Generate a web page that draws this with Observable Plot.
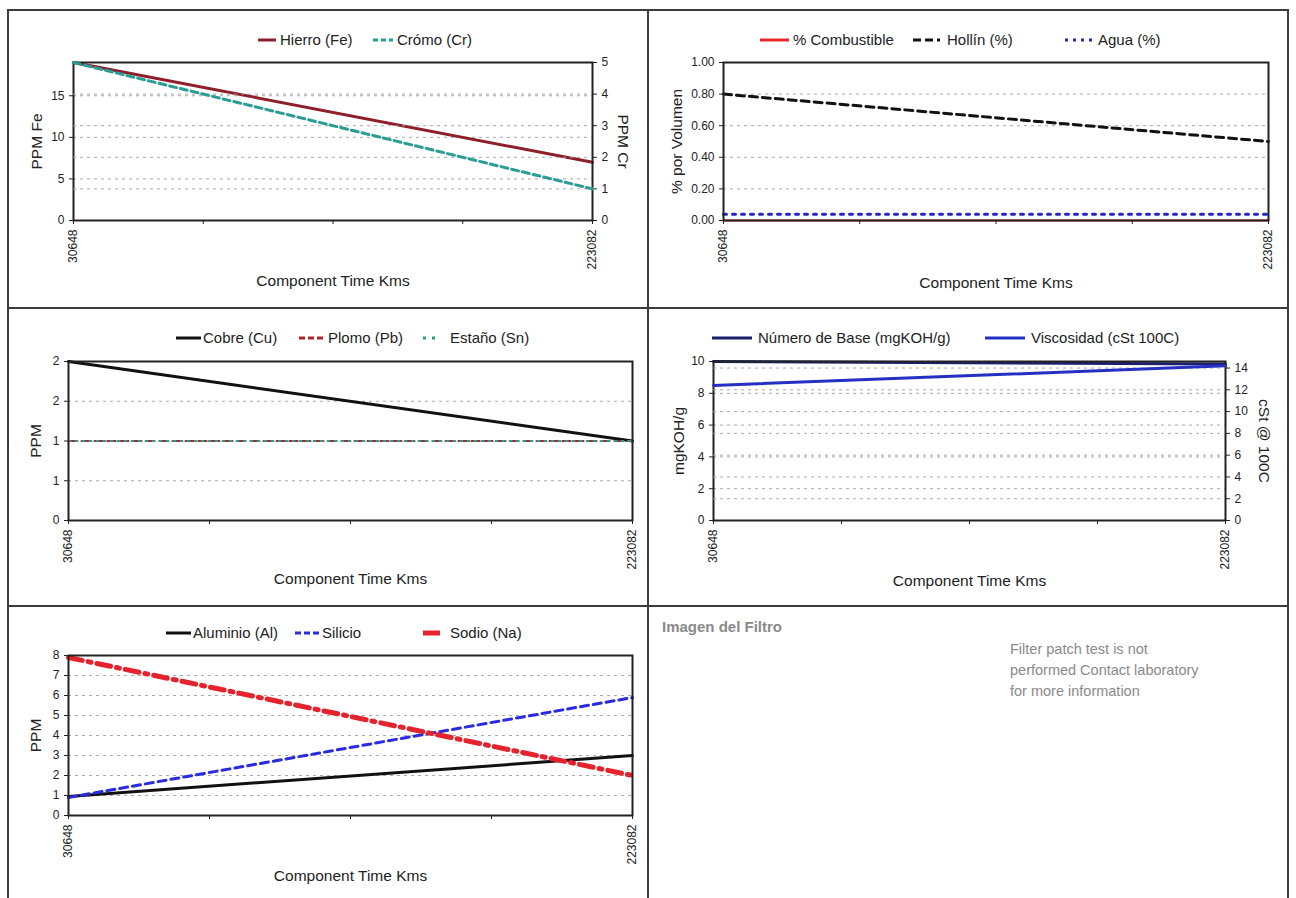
<!DOCTYPE html>
<html><head><meta charset="utf-8">
<script src="https://cdn.jsdelivr.net/npm/d3@7"></script>
<script src="https://cdn.jsdelivr.net/npm/@observablehq/plot@0.6"></script>
<style>
html,body{margin:0;padding:0;background:#fff;width:1296px;height:898px;overflow:hidden;font-family:'Liberation Sans',Arial,sans-serif;}
.panel{position:absolute;}
.panel svg{position:absolute;left:0;top:0;}
.rule{position:absolute;background:#3c3c3c;}
.leg{position:absolute;font-size:15px;color:#222;white-space:nowrap;line-height:16px;}
.legsw{position:absolute;}
</style></head><body>
<div id="root"></div>
<script>
// ---------- data ----------
const xKms = [30648, 223082];
const xMinor = [78757, 126865, 174974];

const fe = [19, 7.0];
const cr = [5, 1.0];

const combustible = [0, 0];
const hollin = [0.80, 0.50];
const agua = [0.04, 0.04];

const cu = [2, 1];
const pb = [1, 1];
const sn = [1, 1];

const tbn = [10, 9.85];
const visc = [12.4, 14.2];

const al = [0.95, 3.0];
const si = [0.9, 5.9];
const na = [7.9, 2.0];

const feTicks = [0, 5, 10, 15];
const crTicks = [0, 1, 2, 3, 4, 5];
const volTicks = [0, 0.2, 0.4, 0.6, 0.8, 1.0];
const cuTicks = [0, 0.5, 1, 1.5, 2];
const tbnTicks = [0, 2, 4, 6, 8, 10];
const viscTicks = [0, 2, 4, 6, 8, 10, 12, 14];
const ppmTicks = [0, 1, 2, 3, 4, 5, 6, 7, 8];

// ---------- helpers ----------
const FONT = "'Liberation Sans', Arial, sans-serif";
const TITLE = 15.5;
const series = (vals) => xKms.map((x, i) => ({x, y: vals[i]}));
const grid = (ticks) => Plot.gridY(ticks, {stroke: "#a0a0a0", strokeOpacity: 0.9, strokeDasharray: "3,4"});
const intFmt = d => String(Math.round(d));

function plotBox(w, h, m, yDomain, marks, xAxis = true) {
  return Plot.plot({
    width: w, height: h,
    marginTop: m[0], marginRight: m[1], marginBottom: m[2], marginLeft: m[3],
    x: xAxis ? {domain: xKms} : {domain: xKms, axis: null},
    y: {domain: yDomain},
    style: {fontFamily: FONT, fontSize: "12px", color: "#222", background: "transparent", overflow: "visible"},
    marks
  });
}

function xAxisMarks(dy) {
  return [
    Plot.axisX({ticks: xKms, tickRotate: -90, tickFormat: d => String(d), tickSize: 4, label: null}),
    Plot.axisX({ticks: xMinor, tickFormat: () => "", tickSize: 4, label: null}),
    Plot.text(["Component Time Kms"], {frameAnchor: "bottom", dy, text: d => d, fontSize: TITLE, fill: "#222", textAnchor: "middle"})
  ];
}
function yTitle(t, dx, side = "left") {
  return Plot.text([t], {frameAnchor: side, dx, rotate: side === "left" ? -90 : 90, text: d => d, fontSize: TITLE, fill: "#222", textAnchor: "middle", lineAnchor: "middle"});
}

function panel(left, top, w, h) {
  const d = document.createElement("div");
  d.className = "panel";
  Object.assign(d.style, {left: left + "px", top: top + "px", width: w + "px", height: h + "px"});
  document.getElementById("root").appendChild(d);
  return d;
}
function legend(p, y, items) {
  for (const it of items) {
    const sw = it.x1 - it.x0;
    const s = document.createElementNS("http://www.w3.org/2000/svg", "svg");
    s.setAttribute("width", sw); s.setAttribute("height", 12);
    s.setAttribute("class", "legsw");
    s.style.left = it.x0 + "px"; s.style.top = (y - 6) + "px";
    const ln = document.createElementNS("http://www.w3.org/2000/svg", "line");
    ln.setAttribute("x1", 0); ln.setAttribute("x2", sw); ln.setAttribute("y1", 6); ln.setAttribute("y2", 6);
    ln.setAttribute("stroke", it.color); ln.setAttribute("stroke-width", it.w || 3);
    if (it.dash) ln.setAttribute("stroke-dasharray", it.dash);
    s.appendChild(ln);
    p.appendChild(s);
    const t = document.createElement("div");
    t.className = "leg"; t.textContent = it.label;
    t.style.left = it.tx + "px"; t.style.top = (y - 8) + "px";
    p.appendChild(t);
  }
}

const C = {
  fe: "#8e1f2a", cr: "#2a9d95", comb: "#e8282e", hollin: "#111", agua: "#2424c8",
  cu: "#111", pb: "#b0232a", sn: "#2a9d8f", tbn: "#1b1f6e", visc: "#2430c4",
  al: "#111", si: "#2a2ae0", na: "#e6222c", frame: "#222"
};
const frame = () => Plot.frame({stroke: C.frame, strokeWidth: 2});

// ---------- Panel 1: Hierro / Cromo ----------
{
  const p = panel(8, 10, 640, 298);
  const m = [52, 56, 88, 65];
  p.appendChild(plotBox(640, 298, m, [0, 19], [
    grid(feTicks.slice(1)),
    Plot.axisY({ticks: feTicks, tickSize: 4, label: null}),
    ...xAxisMarks(65),
    yTitle("PPM Fe", -36),
    Plot.line(series(fe), {x: "x", y: "y", stroke: C.fe, strokeWidth: 3}),
    frame()
  ]));
  p.appendChild(plotBox(640, 298, m, [0, 5], [
    grid(crTicks.slice(1, -1)),
    Plot.axisY({anchor: "right", ticks: crTicks, tickSize: 4, label: null, tickFormat: intFmt}),
    yTitle("PPM Cr", 30, "right"),
    Plot.line(series(cr), {x: "x", y: "y", stroke: C.cr, strokeWidth: 3, strokeDasharray: "7,4"})
  ], false));
  legend(p, 30, [
    {x0: 250, x1: 268, tx: 272, label: "Hierro (Fe)", color: C.fe},
    {x0: 365, x1: 385, tx: 389, label: "Crómo (Cr)", color: C.cr, dash: "5,3"}
  ]);
}

// ---------- Panel 2: Combustible / Hollin / Agua ----------
{
  const p = panel(648, 10, 640, 298);
  const m = [52, 20, 88, 75];
  p.appendChild(plotBox(640, 298, m, [0, 1], [
    grid(volTicks.slice(1, -1)),
    Plot.axisY({ticks: volTicks, tickSize: 4, label: null, tickFormat: d3.format(".2f")}),
    ...xAxisMarks(67),
    yTitle("% por Volumen", -46),
    Plot.line(series(combustible), {x: "x", y: "y", stroke: C.comb, strokeWidth: 2}),
    Plot.line(series(hollin), {x: "x", y: "y", stroke: C.hollin, strokeWidth: 3, strokeDasharray: "8,5"}),
    Plot.line(series(agua), {x: "x", y: "y", stroke: C.agua, strokeWidth: 3, strokeDasharray: "3,6"}),
    frame()
  ]));
  legend(p, 30, [
    {x0: 112, x1: 141, tx: 145, label: "% Combustible", color: C.comb},
    {x0: 265, x1: 292, tx: 299, label: "Hollín (%)", color: C.hollin, dash: "8,4"},
    {x0: 417, x1: 444, tx: 450, label: "Agua (%)", color: C.agua, dash: "3,5"}
  ]);
}

// ---------- Panel 3: Cobre / Plomo / Estaño ----------
{
  const p = panel(8, 308, 640, 298);
  const m = [53, 16, 86, 60];
  p.appendChild(plotBox(640, 298, m, [0, 2], [
    grid(cuTicks.slice(1, -1)),
    Plot.axisY({ticks: cuTicks, tickSize: 4, label: null, tickFormat: intFmt}),
    ...xAxisMarks(63),
    yTitle("PPM", -32),
    Plot.line(series(cu), {x: "x", y: "y", stroke: C.cu, strokeWidth: 3}),
    Plot.line(series(pb), {x: "x", y: "y", stroke: C.pb, strokeWidth: 2, strokeDasharray: "8,5"}),
    Plot.line(series(sn), {x: "x", y: "y", stroke: C.sn, strokeWidth: 2, strokeDasharray: "2,5"}),
    frame()
  ]));
  legend(p, 30, [
    {x0: 168, x1: 193, tx: 195, label: "Cobre (Cu)", color: C.cu},
    {x0: 291, x1: 316, tx: 320, label: "Plomo (Pb)", color: C.pb, dash: "6,3"},
    {x0: 415, x1: 428, tx: 442, label: "Estaño (Sn)", color: C.sn, dash: "3,6"}
  ]);
}

// ---------- Panel 4: TBN / Viscosidad ----------
{
  const p = panel(648, 308, 640, 298);
  const m = [53, 63, 86, 65];
  p.appendChild(plotBox(640, 298, m, [0, 10], [
    grid(tbnTicks.slice(1, -1)),
    Plot.axisY({ticks: tbnTicks, tickSize: 4, label: null}),
    ...xAxisMarks(65),
    yTitle("mgKOH/g", -34),
    Plot.line(series(tbn), {x: "x", y: "y", stroke: C.tbn, strokeWidth: 3}),
    frame()
  ]));
  p.appendChild(plotBox(640, 298, m, [0, 14.6], [
    grid(viscTicks.slice(1)),
    Plot.axisY({anchor: "right", ticks: viscTicks, tickSize: 4, label: null}),
    yTitle("cSt @ 100C", 38, "right"),
    Plot.line(series(visc), {x: "x", y: "y", stroke: C.visc, strokeWidth: 3})
  ], false));
  legend(p, 30, [
    {x0: 64, x1: 104, tx: 110, label: "Número de Base (mgKOH/g)", color: C.tbn},
    {x0: 337, x1: 377, tx: 383, label: "Viscosidad (cSt 100C)", color: C.visc}
  ]);
}

// ---------- Panel 5: Aluminio / Silicio / Sodio ----------
{
  const p = panel(8, 606, 640, 292);
  const m = [49, 16, 83, 60];
  p.appendChild(plotBox(640, 292, m, [0, 8], [
    grid(ppmTicks.slice(1, -1)),
    Plot.axisY({ticks: ppmTicks, tickSize: 4, label: null}),
    ...xAxisMarks(65),
    yTitle("PPM", -32),
    Plot.line(series(al), {x: "x", y: "y", stroke: C.al, strokeWidth: 3}),
    Plot.line(series(si), {x: "x", y: "y", stroke: C.si, strokeWidth: 3, strokeDasharray: "8,5"}),
    Plot.line(series(na), {x: "x", y: "y", stroke: C.na, strokeWidth: 5, strokeDasharray: "14,6,3,6"}),
    frame()
  ]));
  legend(p, 27, [
    {x0: 158, x1: 183, tx: 185, label: "Aluminio (Al)", color: C.al},
    {x0: 287, x1: 312, tx: 314, label: "Silicio", color: C.si, dash: "6,3"},
    {x0: 415, x1: 432, tx: 442, label: "Sodio (Na)", color: C.na, w: 5}
  ]);
}

// ---------- Panel 6: filter text ----------
{
  const p = panel(648, 606, 640, 292);
  const a = document.createElement("div");
  Object.assign(a.style, {position: "absolute", left: "14px", top: "12px", fontSize: "15px", color: "#8a8a8a", fontWeight: "bold"});
  a.textContent = "Imagen del Filtro";
  p.appendChild(a);
  const b = document.createElement("div");
  Object.assign(b.style, {position: "absolute", left: "362px", top: "33px", fontSize: "14.5px", color: "#8a8a8a", lineHeight: "21px"});
  b.innerHTML = "Filter patch test is not<br>performed Contact laboratory<br>for more information";
  p.appendChild(b);
}

// ---------- grid rules ----------
function rule(l, t, w, h) {
  const d = document.createElement("div"); d.className = "rule";
  Object.assign(d.style, {left: l + "px", top: t + "px", width: w + "px", height: h + "px"});
  document.getElementById("root").appendChild(d);
}
rule(8, 9, 1281, 2);
rule(7, 9, 2, 900);
rule(1287, 9, 2, 900);
rule(647, 9, 2, 900);
rule(7, 307, 1282, 2);
rule(7, 605, 1282, 2);
</script>
</body></html>
